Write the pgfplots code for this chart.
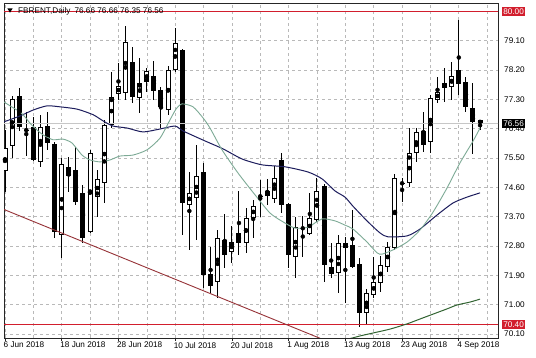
\documentclass[border=0pt]{standalone}
\usepackage{fontspec}
\setmainfont{Liberation Sans}
\usepackage{pgfplots}
\usepackage{pgfplotstable}
\pgfplotsset{compat=1.18}
\definecolor{navyma}{RGB}{28,28,92}
\definecolor{tealma}{RGB}{125,170,150}
\definecolor{dkgreen}{RGB}{50,100,50}
\definecolor{trend}{RGB}{150,50,55}
\definecolor{crim}{RGB}{210,30,45}
\definecolor{gridc}{RGB}{185,185,185}
\pgfplotstableread{
i O H L C
0 75.10 76.36 74.46 75.81
1 75.87 77.40 75.50 77.31
2 77.40 77.65 76.33 76.45
3 76.36 76.91 75.56 76.35
4 76.45 76.76 75.41 75.44
5 75.38 76.82 75.22 76.45
6 76.48 76.91 75.75 75.96
7 75.93 75.99 73.05 73.23
8 73.14 75.50 72.43 75.32
9 75.22 75.53 74.46 74.95
10 75.13 75.84 74.06 74.15
11 74.43 74.67 72.89 73.05
12 73.23 75.75 73.20 75.65
13 74.30 75.13 73.69 74.86
14 74.73 76.67 74.12 76.51
15 76.51 78.14 76.42 77.37
16 77.46 78.42 77.28 77.71
17 77.50 79.55 77.28 79.06
18 78.45 78.91 77.19 77.37
19 77.34 78.57 76.88 77.80
20 77.83 78.26 77.53 78.17
21 78.02 78.48 77.28 77.56
22 77.59 77.68 76.42 77.07
23 76.97 78.32 76.82 78.20
24 78.20 79.49 78.14 79.03
25 78.81 78.85 73.14 74.12
26 74.06 75.07 72.68 74.43
27 74.27 75.90 72.98 74.95
28 75.07 75.35 71.51 71.91
29 71.94 72.77 71.36 71.57
30 71.70 73.29 71.21 73.05
31 72.98 73.78 72.13 72.52
32 72.62 73.41 72.28 72.92
33 73.20 74.49 72.52 72.89
34 72.89 73.97 72.59 73.66
35 73.66 74.21 73.05 74.03
36 74.33 74.83 73.69 74.32
37 74.49 74.86 74.06 74.33
38 74.24 75.25 74.12 74.89
39 75.44 75.65 73.81 74.06
40 74.10 74.12 72.13 72.52
41 72.46 73.69 71.82 73.38
42 73.35 73.72 72.46 73.34
43 73.17 74.43 73.14 73.66
44 73.60 74.89 73.54 74.49
45 74.64 74.70 71.70 72.22
46 72.16 72.89 71.82 71.94
47 71.97 73.14 71.36 72.89
48 72.89 73.08 71.05 72.74
49 72.83 73.91 72.13 72.16
50 72.25 72.43 70.32 70.75
51 70.75 71.48 70.38 71.36
52 71.30 72.46 71.21 71.70
53 71.67 72.49 71.39 72.22
54 72.16 72.92 72.00 72.77
55 72.74 75.01 72.68 74.89
56 74.73 74.89 74.15 74.72
57 74.73 76.42 74.61 75.65
58 75.65 76.42 75.38 76.30
59 76.33 76.91 75.68 75.90
60 75.99 77.43 75.65 77.34
61 77.28 77.99 77.19 77.53
62 77.80 78.26 77.22 77.65
63 77.68 78.45 77.28 78.02
64 78.20 79.74 77.43 77.77
65 77.83 77.99 76.91 77.07
66 77.03 77.80 75.62 76.61
67 76.66 76.66 76.35 76.56
}\candles
\begin{document}
\begin{tikzpicture}
\useasboundingbox (0,0) rectangle (536pt,358pt);
\fill[white] (0,0) rectangle (536pt,358pt);
\begin{axis}[
  at={(4pt,20pt)}, anchor=south west,
  scale only axis, width=494pt, height=335pt,
  xmin=-0.141, xmax=69.53, ymin=69.978, ymax=80.257,
  axis line style={black!85, line width=0.8pt},
  xtick={0,8,...,64},
  xticklabels={6 Jun 2018,18 Jun 2018,28 Jun 2018,10 Jul 2018,20 Jul 2018,1 Aug 2018,13 Aug 2018,23 Aug 2018,4 Sep 2018},
  minor xtick={4,12,...,68},
  ytick={70.1,71.0,71.9,72.8,73.7,74.6,75.5,76.4,77.3,78.2,79.1,80.0},
  yticklabels={70.10,71.00,71.90,72.80,73.70,74.60,75.50,76.40,77.30,78.20,79.10,},
  yticklabel pos=right, ytick pos=right, xtick pos=bottom,
  tick align=outside,
  major tick length=3pt, minor tick length=0pt,
  ytick style={draw=none},
  xtick style={black!85, line width=0.6pt},
  xmajorgrids, xminorgrids, ymajorgrids,
  grid style={gridc, line width=0.6pt, dash pattern=on 3pt off 3pt},
  minor grid style={gridc, line width=0.6pt, dash pattern=on 3pt off 3pt},
  ticklabel style={font=\fontsize{8.2}{9}\selectfont, inner sep=0pt},
  xticklabel style={anchor=north west, xshift=-1.5pt, yshift=-1pt},
  yticklabel style={anchor=west, xshift=3pt},
]
% wicks
\addplot[only marks, mark=none, error bars/.cd, y dir=both, y explicit, error mark=none,
  error bar style={line width=1pt, black}]
  table[x=i, y expr={(\thisrow{H}+\thisrow{L})/2}, y error expr={(\thisrow{H}-\thisrow{L})/2}] {\candles};
% bodies
\addplot[only marks, mark=none, error bars/.cd, y dir=both, y explicit, error mark=none,
  error bar style={line width=5pt, black}]
  table[x=i, y expr={(\thisrow{O}+\thisrow{C})/2}, y error expr={max(abs(\thisrow{O}-\thisrow{C})/2,0.016)}] {\candles};
\addplot[only marks, mark=none, error bars/.cd, y dir=both, y explicit, error mark=none,
  error bar style={line width=3pt, white}]
  table[x=i, y expr={ifthenelse(\thisrow{C}>\thisrow{O},(\thisrow{O}+\thisrow{C})/2,0)},
        y error expr={ifthenelse(\thisrow{C}>\thisrow{O},max((\thisrow{C}-\thisrow{O})/2-0.031,0),0)}] {\candles};
% lines
\addplot[black!22, line width=1pt] coordinates {(-1,76.56) (70,76.56)};
\addplot[crim, line width=0.9pt] coordinates {(-1,80) (70,80)};
\addplot[crim, line width=0.9pt] coordinates {(-1,70.4) (70,70.4)};
\addplot[trend, line width=0.9pt] coordinates {(-0.141,73.92) (47,69.74)};
\addplot[navyma, line width=1pt, smooth, tension=0.4] coordinates {
(-0.14,76.61)(2.12,76.79)(3.95,76.97)(5.92,77.10)(7.76,77.07)(10.16,77.00)(12.41,76.83)(13.82,76.64)(15.23,76.48)(17.21,76.42)(19.46,76.30)(21.86,76.39)(23.98,76.48)(25.11,76.33)(27.93,76.05)(30.75,75.78)(33.43,75.47)(36.25,75.29)(39.49,75.23)(42.74,75.07)(44.71,74.86)(46.54,74.49)(47.95,74.30)(49.08,74.02)(51.06,73.57)(52.89,73.20)(54.02,73.08)(56.70,73.11)(58.53,73.32)(60.93,73.75)(63.19,74.12)(65.16,74.30)(67,74.43)};
\addplot[tealma, line width=0.9pt, smooth, tension=0.4] coordinates {
(-0.14,77.22)(0.71,77.10)(2.12,76.91)(2.82,76.76)(3.53,76.57)(4.51,76.36)(5.36,76.21)(6.77,76.06)(8.18,76.08)(9.45,75.96)(10.86,75.59)(11.99,75.44)(13.40,75.38)(14.81,75.44)(16.22,75.56)(18.05,75.59)(20.03,75.75)(21.86,76.11)(23.27,76.67)(24.12,77.00)(24.96,77.16)(26.52,77.07)(27.93,76.73)(28.91,76.42)(30.61,75.75)(32.86,75.04)(35.26,74.37)(37.38,73.81)(39.21,73.54)(40.90,73.35)(42.74,73.38)(44.71,73.63)(46.54,73.57)(47.95,73.44)(49.08,73.32)(51.06,72.92)(52.47,72.59)(53.17,72.55)(54.72,72.68)(56.70,72.92)(58.53,73.29)(60.37,73.84)(62.34,74.58)(64.17,75.35)(66.01,76.02)(67,76.42)};
\addplot[dkgreen, line width=1pt, smooth, tension=0.4] coordinates {
(46,69.85)(48.66,69.96)(50.07,70.04)(51.9,70.13)(54.3,70.25)(56.7,70.41)(58.53,70.56)(60.37,70.71)(62.34,70.87)(63.75,70.99)(65.59,71.08)(67,71.17)};
\coordinate (b80) at (axis cs:69.53,80);
\coordinate (b7656) at (axis cs:69.53,76.56);
\coordinate (b7040) at (axis cs:69.53,70.4);
\end{axis}
\node[fill=crim, text=white, font=\fontsize{8.2}{9}\selectfont, inner xsep=1.6pt, inner ysep=1.5pt, text height=5.9pt, text depth=0pt, anchor=west] at ([xshift=3.5pt]b80) {80.00};
\node[fill=crim, text=white, font=\fontsize{8.2}{9}\selectfont, inner xsep=1.6pt, inner ysep=1.5pt, text height=5.9pt, text depth=0pt, anchor=west] at ([xshift=3.5pt]b7040) {70.40};
\node[fill=black, text=white, font=\fontsize{8.2}{9}\selectfont, inner xsep=1.6pt, inner ysep=1.5pt, text height=5.9pt, text depth=0pt, anchor=west] at ([xshift=3.5pt]b7656) {76.56};
\fill[black] (7.3pt,349.7pt) -- (12.7pt,349.7pt) -- (10pt,345.3pt) -- cycle;
\node[anchor=base west, inner sep=0pt, font=\fontsize{8.2}{9}\selectfont] at (18pt,344.7pt) {FBRENT,Daily\hspace{4pt}76.66 76.66 76.35 76.56};
\end{tikzpicture}
\end{document}
